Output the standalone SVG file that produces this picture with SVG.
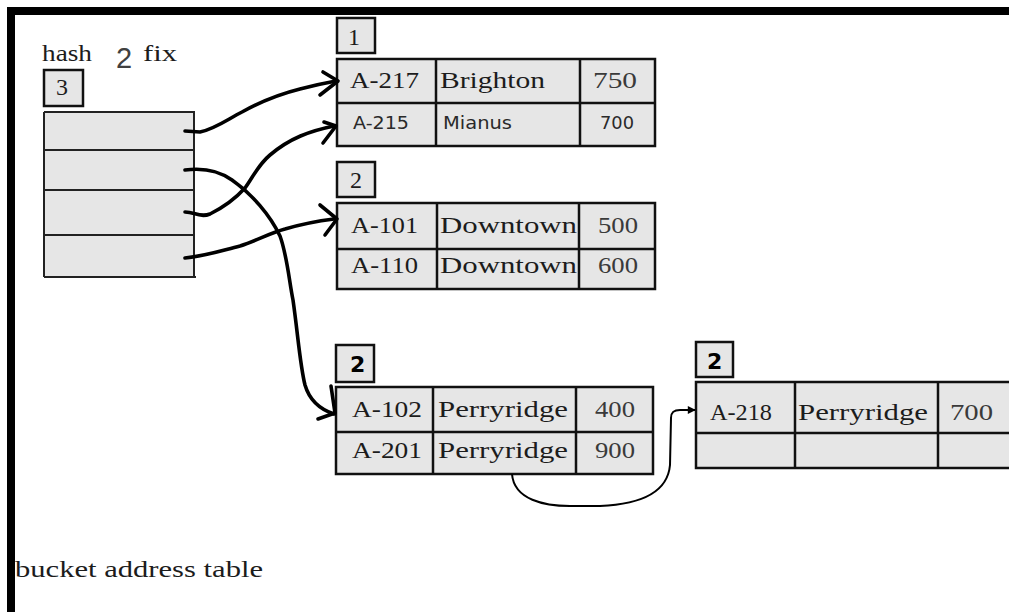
<svg xmlns="http://www.w3.org/2000/svg" width="1009" height="612" viewBox="0 0 1009 612">
  <style>
    .cell { fill: #e6e6e6; stroke: #111; stroke-width: 2.5; }
    .rule { stroke: #111; stroke-width: 2.5; fill: none; }
    .thin { stroke: #222; stroke-width: 2; fill: none; }
    .serif { font-family: "Liberation Serif", "Times New Roman", serif; font-size: 24px; fill: #1c1c1c; }
    .num { fill: #3a3a3a; }
    .sans { font-family: "DejaVu Sans", "Liberation Sans", sans-serif; font-size: 18px; fill: #2a2a2a; }
    .depth { font-family: "DejaVu Sans", "Liberation Sans", sans-serif; font-size: 22px; font-weight: bold; fill: #000; }
    .ptr { stroke: #000; stroke-width: 3.6; fill: none; stroke-linecap: round; stroke-linejoin: round; }
    .link { stroke: #000; stroke-width: 2; fill: none; }
  </style>
  <defs>
    <marker id="tip" viewBox="0 0 10 10" refX="9" refY="5" markerWidth="9" markerHeight="8" markerUnits="userSpaceOnUse" orient="auto">
      <path d="M0,0 L10,5 L0,10 Z" fill="#000"/>
    </marker>
  </defs>

  <!-- page frame -->
  <rect x="7" y="7" width="1002" height="8" fill="#000"/>
  <rect x="7" y="7" width="8" height="605" fill="#000"/>

  <!-- global depth label -->
  <g id="hash-prefix">
    <text class="serif" x="42" y="61" textLength="50" lengthAdjust="spacingAndGlyphs">hash</text>
    <text x="116" y="68" font-family="Liberation Sans, Arial, sans-serif" font-size="29" fill="#404040">2</text>
    <text class="serif" x="143" y="61" textLength="34" lengthAdjust="spacingAndGlyphs">fix</text>
    <rect x="44" y="70" width="39" height="36" class="cell"/>
    <text class="serif" x="56" y="95" font-size="22">3</text>
  </g>

  <!-- bucket address table -->
  <g id="address-table">
    <rect x="44" y="112" width="150" height="165" fill="#e6e6e6"/>
    <path class="thin" d="M44,112 H194 V277 M44,112 V277 M44,150 H194 M44,190 H194 M44,235 H194 M44,277 H196"/>
    <text class="serif" x="15" y="577" textLength="248" lengthAdjust="spacingAndGlyphs">bucket address table</text>
  </g>

  <!-- bucket 1 -->
  <g id="bucket1">
    <rect x="337" y="18" width="38" height="35" class="cell"/>
    <text class="serif" x="348" y="45" font-size="22">1</text>
    <rect x="337" y="59" width="318" height="87" class="cell"/>
    <path class="rule" d="M337,103 H655 M436,59 V146 M580,59 V146"/>
    <text class="serif" x="350" y="88" textLength="69" lengthAdjust="spacingAndGlyphs">A-217</text>
    <text class="serif" x="440" y="88" textLength="105" lengthAdjust="spacingAndGlyphs">Brighton</text>
    <text class="serif num" x="593" y="88" textLength="44" lengthAdjust="spacingAndGlyphs">750</text>
    <text class="sans" x="353" y="129" textLength="56" lengthAdjust="spacingAndGlyphs">A-215</text>
    <text class="sans" x="443" y="129" textLength="69" lengthAdjust="spacingAndGlyphs">Mianus</text>
    <text class="sans" x="600" y="129" textLength="34" lengthAdjust="spacingAndGlyphs">700</text>
  </g>

  <!-- bucket 2 -->
  <g id="bucket2">
    <rect x="337" y="162" width="38" height="35" class="cell"/>
    <text class="serif" x="350" y="188" font-size="22">2</text>
    <rect x="337" y="203" width="318" height="86" class="cell"/>
    <path class="rule" d="M337,249 H655 M437,203 V289 M579,203 V289"/>
    <text class="serif" x="351" y="233" textLength="67" lengthAdjust="spacingAndGlyphs">A-101</text>
    <text class="serif" x="440" y="233" textLength="137" lengthAdjust="spacingAndGlyphs">Downtown</text>
    <text class="serif num" x="598" y="233" textLength="40" lengthAdjust="spacingAndGlyphs">500</text>
    <text class="serif" x="351" y="273" textLength="67" lengthAdjust="spacingAndGlyphs">A-110</text>
    <text class="serif" x="440" y="273" textLength="137" lengthAdjust="spacingAndGlyphs">Downtown</text>
    <text class="serif num" x="598" y="273" textLength="40" lengthAdjust="spacingAndGlyphs">600</text>
  </g>

  <!-- bucket 3 -->
  <g id="bucket3">
    <rect x="336" y="345" width="38" height="37" class="cell"/>
    <text class="depth" x="350" y="372">2</text>
    <rect x="336" y="387" width="317" height="87" class="cell"/>
    <path class="rule" d="M336,432 H653 M433,387 V474 M576,387 V474"/>
    <text class="serif" x="352" y="417" textLength="70" lengthAdjust="spacingAndGlyphs">A-102</text>
    <text class="serif" x="438" y="417" textLength="130" lengthAdjust="spacingAndGlyphs">Perryridge</text>
    <text class="serif num" x="595" y="417" textLength="40" lengthAdjust="spacingAndGlyphs">400</text>
    <text class="serif" x="352" y="458" textLength="70" lengthAdjust="spacingAndGlyphs">A-201</text>
    <text class="serif" x="438" y="458" textLength="130" lengthAdjust="spacingAndGlyphs">Perryridge</text>
    <text class="serif num" x="595" y="458" textLength="40" lengthAdjust="spacingAndGlyphs">900</text>
  </g>

  <!-- bucket 4 (overflow) -->
  <g id="bucket4">
    <rect x="696" y="342" width="37" height="35" class="cell"/>
    <text class="depth" x="707" y="369">2</text>
    <rect x="696" y="382" width="330" height="86" class="cell"/>
    <path class="rule" d="M696,433 H1009 M795,382 V468 M938,382 V468"/>
    <text class="serif" x="710" y="420" textLength="62" lengthAdjust="spacingAndGlyphs">A-218</text>
    <text class="serif" x="798" y="420" textLength="130" lengthAdjust="spacingAndGlyphs">Perryridge</text>
    <text class="serif num" x="950" y="420" textLength="43" lengthAdjust="spacingAndGlyphs">700</text>
  </g>

  <!-- pointers -->
  <g id="connectors">
    <path class="ptr" d="M185,131 L200,132 C215,129 228,119 242,112 C260,102 280,94 300,89 C315,85 325,83 336,81"/>
    <path class="ptr" d="M323,72 L338,81 L320,95"/>

    <path class="ptr" d="M185,170 C200,168 218,170 232,180 C252,194 270,215 280,236 C287,255 289,280 293,300 C298,335 300,365 305,385 C310,402 322,410 334,414"/>
    <path class="ptr" d="M331,386 L335,413 L318,419"/>

    <path class="ptr" d="M185,212 C195,212 200,218 210,214 C222,208 235,199 245,188 C253,177 258,165 270,155 C290,138 310,131 334,126"/>
    <path class="ptr" d="M324,122 L336,126 L323,143"/>

    <path class="ptr" d="M185,258 C205,256 220,251 240,246 C258,240 270,233 285,229 C302,224 318,221 334,219"/>
    <path class="ptr" d="M320,205 L337,219 L325,235"/>

    <path class="link" marker-end="url(#tip)" d="M512,474 C514,500 545,506 570,506 L600,506 C648,504 668,488 670,465 L671,418 C671,412 674,410 680,410 L695,410"/>
  </g>
</svg>
